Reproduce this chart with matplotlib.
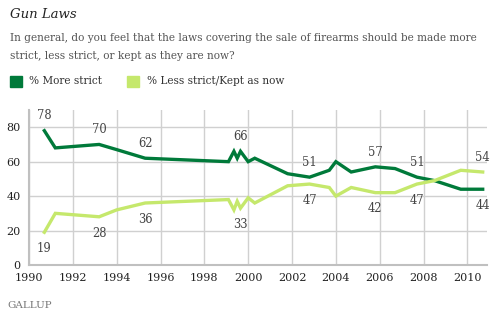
import matplotlib.pyplot as plt

# survey dates (decimal years) and values
years = [1990.7, 1991.2, 1993.2, 1994.0, 1995.3, 1999.1, 1999.35, 1999.5, 1999.65,
         2000.0, 2000.3, 2001.8, 2002.8, 2003.7, 2004.0, 2004.7, 2005.8, 2006.7,
         2007.7, 2008.5, 2009.7, 2010.7]
more_strict = [78, 68, 70, 67, 62, 60, 66, 62, 66,
               60, 62, 53, 51, 55, 60, 54, 57, 56,
               51, 49, 44, 44]
less_strict = [19, 30, 28, 32, 36, 38, 32, 37, 33,
               39, 36, 46, 47, 45, 40, 45, 42, 42,
               47, 49, 55, 54]

# which points get value labels
more_labels = {0: "above", 2: "above", 4: "above", 8: "above", 12: "above",
               16: "above", 18: "above", 21: "below"}
less_labels = {0: "below", 2: "below", 4: "below", 8: "below", 12: "below",
               16: "below", 18: "below", 21: "above"}

dark = "#007a3a"
light = "#c5e86c"
txt = "#444444"
serif = "DejaVu Serif"

fig = plt.figure(figsize=(4.94, 3.27), dpi=100)
ax = fig.add_axes([0.0587, 0.1896, 0.9273, 0.474])

ax.plot(years, more_strict, color=dark, lw=2.4, solid_joinstyle="miter", zorder=3)
ax.plot(years, less_strict, color=light, lw=2.4, solid_joinstyle="miter", zorder=3)

for vals, labs in [(more_strict, more_labels), (less_strict, less_labels)]:
    for i, pos in labs.items():
        dy = 6 if pos == "above" else -7
        ax.annotate(str(vals[i]), (years[i], vals[i]), xytext=(0, dy),
                    textcoords="offset points", ha="center",
                    va="bottom" if pos == "above" else "top",
                    fontsize=8.3, family=serif, color=txt)

ax.set_xlim(1990, 2010.9)
ax.set_ylim(0, 90)
ax.set_xticks(range(1990, 2011, 2))
ax.set_yticks([0, 20, 40, 60, 80])
ax.grid(True, color="#d0d0d0", lw=1)
ax.set_axisbelow(True)
for s in ["top", "right"]:
    ax.spines[s].set_visible(False)
for s in ["left", "bottom"]:
    ax.spines[s].set_color("#c0c0c0")
    ax.spines[s].set_linewidth(1.5)
ax.tick_params(length=0, labelsize=8, colors="#222222", pad=6)
for lab in ax.get_xticklabels() + ax.get_yticklabels():
    lab.set_family(serif)

fig.text(0.02, 0.955, "Gun Laws", fontsize=9.5, style="italic", family=serif,
         color="#222222", va="center")
fig.text(0.02, 0.885, "In general, do you feel that the laws covering the sale of firearms should be made more",
         fontsize=7.6, family=serif, color="#555555", va="center")
fig.text(0.02, 0.828, "strict, less strict, or kept as they are now?",
         fontsize=7.6, family=serif, color="#555555", va="center")

fig.patches.append(plt.Rectangle((0.02, 0.733), 0.024, 0.036, color=dark,
                                 transform=fig.transFigure, figure=fig))
fig.text(0.058, 0.751, "% More strict", fontsize=7.6, family=serif,
         color="#333333", va="center")
fig.patches.append(plt.Rectangle((0.257, 0.733), 0.024, 0.036, color=light,
                                 transform=fig.transFigure, figure=fig))
fig.text(0.297, 0.751, "% Less strict/Kept as now", fontsize=7.6, family=serif,
         color="#333333", va="center")

fig.text(0.014, 0.065, "GALLUP", fontsize=7.5, family=serif, color="#777777",
         va="center")

fig.savefig("out.png", dpi=100)
